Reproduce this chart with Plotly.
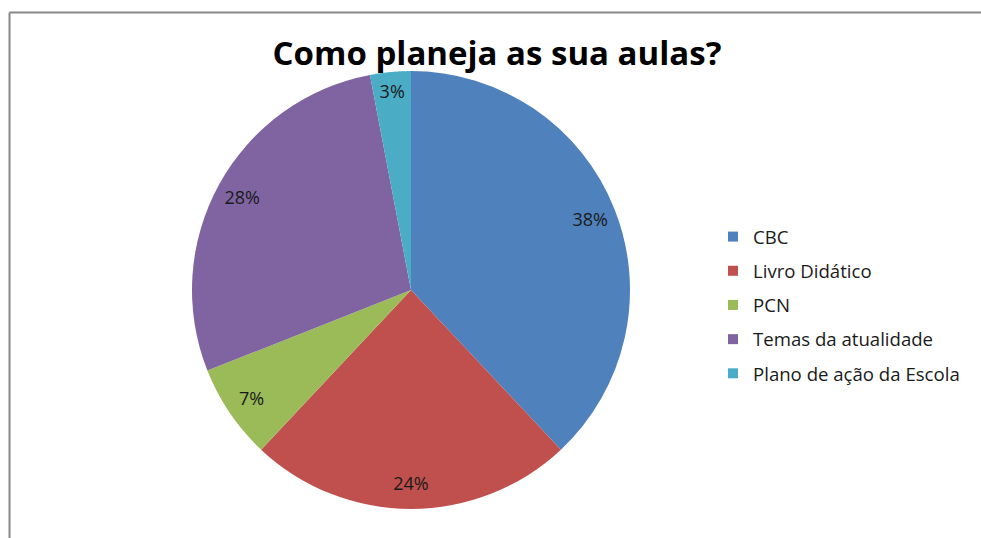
import plotly.graph_objects as go

categories = ["CBC", "Livro Didático", "PCN", "Temas da atualidade", "Plano de ação da Escola"]
values = [38, 24, 7, 28, 3]
colors = ["#4F81BD", "#C0504D", "#9BBB59", "#8064A2", "#4BACC6"]
title_text = "Como planeja as sua aulas?"

W, H = 981, 538
cx, cy, D = 411, 290, 438
dom = dict(x=[(cx - D / 2) / W, (cx + D / 2) / W], y=[1 - (cy + D / 2) / H, 1 - (cy - D / 2) / H])

fig = go.Figure()
# coloured slices
fig.add_trace(go.Pie(
    labels=categories, values=values, sort=False, direction="clockwise", rotation=0,
    marker=dict(colors=colors, line=dict(width=0)),
    textinfo="none", showlegend=False, hoverinfo="label+percent", domain=dom,
))
# transparent ring carrying the percentage labels near the outer edge
fig.add_trace(go.Pie(
    labels=categories, values=values, sort=False, direction="clockwise", rotation=0, hole=0.76,
    marker=dict(colors=["rgba(0,0,0,0)"] * len(values), line=dict(width=0)),
    textinfo="percent", texttemplate="%{percent:.0%}",
    textposition="inside", insidetextorientation="horizontal",
    textfont=dict(family="Open Sans", size=18, color="#1a1a1a"),
    showlegend=False, hoverinfo="skip", domain=dom,
))

# legend entries (one group each so the spacing can be set)
for cat, col in zip(categories, colors):
    fig.add_trace(go.Scatter(
        x=[None], y=[None], mode="markers", name=cat, legendgroup=cat,
        marker=dict(symbol="square", size=10, color=col), showlegend=True,
    ))

border = dict(color="#888888", width=2)
fig.update_layout(
    width=W, height=H, margin=dict(l=0, r=0, t=0, b=0),
    paper_bgcolor="white", plot_bgcolor="white",
    xaxis=dict(visible=False), yaxis=dict(visible=False),
    title=dict(text="<b>" + title_text + "</b>", x=497 / W, xanchor="center", y=1 - 53 / H, yanchor="middle",
               font=dict(family="Open Sans", size=33, color="black")),
    legend=dict(x=713 / W, xanchor="left", y=1 - 218 / H, yanchor="top", tracegroupgap=7,
                font=dict(family="Open Sans", size=18.6, color="#1a1a1a"), bgcolor="rgba(0,0,0,0)",
                itemwidth=30),
    shapes=[
        dict(type="line", xref="paper", yref="paper", x0=9.5 / W, x1=9.5 / W, y0=0, y1=1 - 12.5 / H, line=border),
        dict(type="line", xref="paper", yref="paper", x0=9.5 / W, x1=1, y0=1 - 12.5 / H, y1=1 - 12.5 / H, line=border),
    ],
)

fig.write_html("out.html", config={"displayModeBar": False},
               post_script="document.body.style.margin='0';")
